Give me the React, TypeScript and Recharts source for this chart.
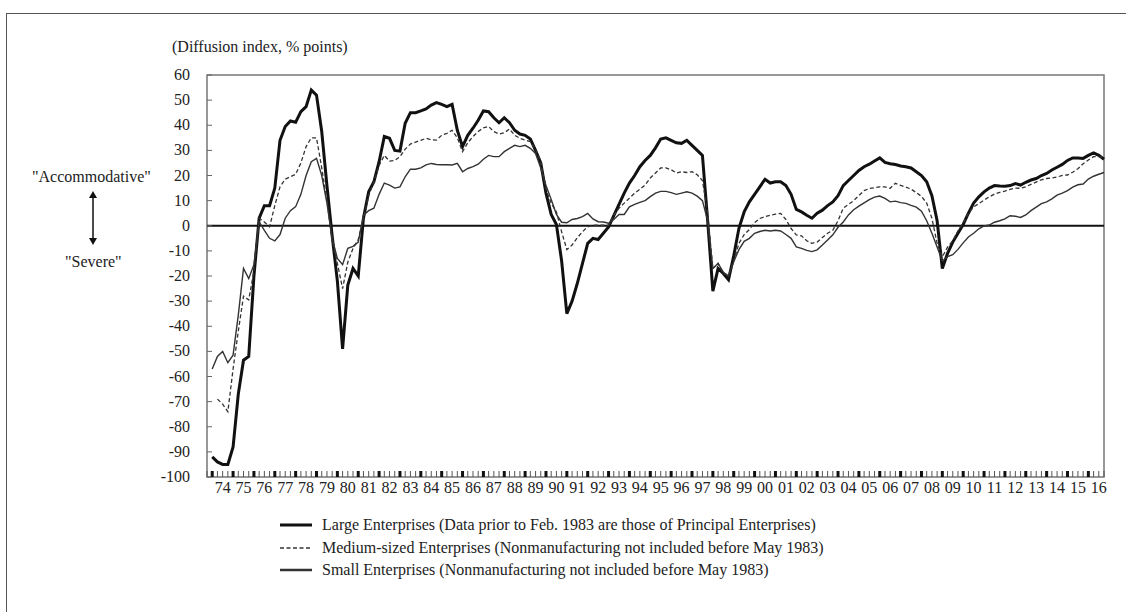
import { LineChart, Line, XAxis, YAxis, ReferenceLine, ReferenceArea } from "recharts";

// quarterly DI, 1974 Q1 .. 2016 Q4
const yearLabels = [
  "74", "75", "76", "77", "78", "79", "80", "81", "82", "83", "84", "85", "86", "87", "88", "89",
  "90", "91", "92", "93", "94", "95", "96", "97", "98", "99", "00", "01", "02", "03", "04", "05",
  "06", "07", "08", "09", "10", "11", "12", "13", "14", "15", "16",
];

const large = [
  -92, -94, -95, -95, -88, -67, -53.5, -52, -20, 3, 8, 8, 15, 34, 39.5, 41.7, 41.2, 45.4, 47.4, 54,
  52, 37.5, 16, -4, -22, -49, -23.6, -17, -20, 3, 13.5, 17.5, 25.5, 35.5, 34.8, 30, 29.7, 40.8, 45, 45,
  45.7, 46.5, 48, 49, 48.3, 47.4, 48.3, 38, 31.5, 36, 38.8, 42, 45.7, 45.4, 43, 41, 43, 41, 38, 36.5,
  36, 34.5, 30, 25, 13, 4.5, 0.5, -14, -35, -30, -23, -15, -7, -5, -5.5, -3, -0.5, 4, 8.5, 13,
  17, 20, 23.5, 26, 28, 31, 34.5, 35, 34, 33, 32.8, 34, 32, 30, 28, 2, -26, -17, -19, -21.5,
  -12, -1, 5.5, 9.5, 12.5, 15.5, 18.5, 17, 17.5, 17.5, 16, 12.5, 6.5, 5.5, 4.2, 3, 5, 6.2, 8, 9.5,
  12, 16, 18, 20, 22, 23.5, 24.5, 25.8, 27, 25.2, 24.7, 24.4, 23.8, 23.5, 23, 21.5, 20, 17.5, 12, 2,
  -17, -11, -6.5, -3, 0.5, 5, 9, 11.5, 13.5, 15, 16, 15.8, 15.7, 16, 16.8, 16.2, 17.3, 18.2, 18.8, 20,
  20.8, 22.2, 23.3, 24.4, 26, 27, 27, 26.8, 28, 29, 28, 26.5,
];

const medium = [
  null, -69, -71, -74, -57, -42, -28, -29.5, -18, 3, 1.5, -0.4, 8, 15.5, 18.5, 19.5, 20.5, 25, 31.5, 35,
  35, 23, 10, -6, -15, -25, -14.5, -9, -5.5, 3, 12, 17.5, 24, 28, 25.7, 26, 27.5, 30.5, 32.5, 33.3,
  34, 34.8, 34.2, 34.1, 36, 36.8, 38, 35, 29.5, 33, 35.5, 37.5, 39, 39.5, 37.5, 36.5, 37, 38.5, 36, 34.8,
  34.1, 33.5, 30.5, 25.5, 14.5, 9, 5.5, -2.4, -9.5, -7.7, -4.8, -2.4, -0.4, 0.2, 0.2, 0.2, 0.2, 4.2, 7, 9,
  11, 13, 14.5, 16.2, 19, 21, 23, 23, 22.3, 21, 21.5, 21.2, 21.5, 20.3, 18, 5, -17, -15, -19, -19.7,
  -14, -7, -3.5, -1.5, 1.2, 2.9, 3.6, 4.2, 4.6, 4.9, 2.5, -1.1, -3.6, -4, -6, -7, -6.5, -4.7, -3, -1.8,
  2, 7, 8.5, 10, 12, 14, 14.8, 15.1, 15.5, 15.5, 14.9, 16.9, 16.1, 15.4, 14.6, 13.2, 11.7, 9, 3, -7,
  -12.4, -8.5, -6, -2, 1, 5, 7.5, 8.8, 10.2, 11.5, 12.6, 13.3, 13.8, 14.5, 15, 14.9, 15.5, 16.5, 17.4, 18.3,
  18.8, 19, 19.4, 20, 20.2, 21.3, 22.7, 24.7, 26.2, 27.5, 27.5, 27.1,
];

const small = [
  -57, -52, -50, -54.5, -51.5, -35.6, -17, -21, -15.5, 1.6, -1.8, -5, -6, -3.5, 3, 6, 7.6, 12.5, 20, 25.5,
  26.8, 20, 9, -5, -13, -15.5, -9, -8.2, -6.5, 4.2, 6, 7, 12.5, 17, 16.2, 15, 15.5, 19.5, 22.5, 22.5,
  23, 24.2, 24.8, 24.4, 24.3, 24.3, 24.2, 24.8, 21.5, 22.8, 23.5, 24.5, 26.5, 28, 27.5, 27.5, 29.5, 30.8, 32, 31.5,
  32, 30.8, 28.8, 23, 16, 10.5, 4.5, 1.4, 1.2, 2.5, 2.9, 3.6, 4.9, 2.7, 1.6, 1.5, 1, 2.5, 4.5, 4.5,
  7.5, 8.5, 9.3, 10, 11.6, 13, 13.7, 13.7, 13.2, 12.5, 13, 13.5, 13, 11.8, 10, 2, -17, -15, -18.5, -20,
  -14.3, -9.5, -6.2, -5, -3, -2.3, -1.8, -2.1, -1.8, -2.1, -3.5, -5, -8.4, -9, -9.8, -10.3, -9.6, -7.7, -5.7, -3.6,
  -0.6, 1.5, 4.3, 6.4, 7.8, 9.1, 10.4, 11.4, 11.8, 10.9, 9.5, 9.8, 9.2, 8.9, 8.1, 7.4, 5.8, 2, -3, -8.5,
  -14, -12.3, -11.5, -9.4, -6.8, -4.5, -3, -1.2, -0.1, 0.3, 1.4, 2, 2.7, 4, 3.8, 3.3, 4.3, 6, 7.4, 8.8,
  9.5, 10.7, 12.2, 13, 14, 15.4, 16.3, 16.6, 18.6, 19.7, 20.5, 21.2,
];

const yTicks = [-100, -90, -80, -70, -60, -50, -40, -30, -20, -10, 0, 10, 20, 30, 40, 50, 60];

const series = [
  { key: "large", name: "Large Enterprises (Data prior to Feb. 1983 are those of Principal Enterprises)", stroke: "#111", width: 3, legendWidth: 3, dash: undefined },
  { key: "medium", name: "Medium-sized Enterprises (Nonmanufacturing not included before May 1983)", stroke: "#333", width: 1.3, legendWidth: 1.3, dash: "4 2.5" },
  { key: "small", name: "Small Enterprises (Nonmanufacturing not included before May 1983)", stroke: "#333", width: 1.4, legendWidth: 2.5, dash: undefined },
];

// position 0 is one quarter before 1974 Q1
const data = large.map((v, i) => ({ q: i + 1, large: v, medium: medium[i], small: small[i] }));
const quarterTicks = Array.from({ length: yearLabels.length * 4 + 1 }, (_, i) => i);

const SERIF = '"Liberation Serif", "Times New Roman", serif';

const QuarterTick = ({ x, y, payload }: any) => {
  const k = payload.value;
  const yearStart = k % 4 === 1;
  const label = k % 4 === 3 ? yearLabels[(k - 3) / 4] : null;
  return (
    <g>
      <rect x={yearStart ? x - 1.5 : x - 0.5} y={y - 6} width={yearStart ? 3 : 1} height={6} fill={yearStart ? "#111" : "#555"} />
      {label && (
        <text x={x} y={y + 16} textAnchor="middle" fontSize={16} fontFamily={SERIF} fill="#222">
          {label}
        </text>
      )}
    </g>
  );
};

const ValueTick = ({ x, y, payload }: any) => (
  <g>
    <line x1={x + 17} x2={x + 22} y1={y} y2={y} stroke="#666" strokeWidth={1} />
    <text x={x} y={y + 5} textAnchor="end" fontSize={16} fontFamily={SERIF} fill="#222">
      {payload.value}
    </text>
  </g>
);

export default function App() {
  return (
    <div style={{ position: "fixed", left: 0, top: 0, width: 1126, height: 612, background: "#fff", overflow: "hidden", fontFamily: SERIF }}>
      <div style={{ position: "absolute", left: 6, top: 13, width: 1200, height: 700, borderLeft: "1.5px solid #555", borderTop: "1.5px solid #555" }} />
      <div style={{ position: "absolute", left: 172, top: 38, fontSize: 16, lineHeight: "18px", color: "#222" }}>
        (Diffusion index, % points)
      </div>
      <div style={{ position: "absolute", left: 32, top: 168, fontSize: 16, lineHeight: "18px", color: "#222" }}>
        "Accommodative"
      </div>
      <div style={{ position: "absolute", left: 65, top: 253, fontSize: 16, lineHeight: "18px", color: "#222" }}>
        "Severe"
      </div>
      <svg style={{ position: "absolute", left: 86, top: 190 }} width={14} height={56}>
        <line x1={7} x2={7} y1={6} y2={50} stroke="#111" strokeWidth={1.5} />
        <path d="M7 1 L3 8 L11 8 Z" fill="#111" />
        <path d="M7 55 L3 48 L11 48 Z" fill="#111" />
      </svg>
      <div style={{ position: "absolute", left: 280, top: 514, fontSize: 16, color: "#222" }}>
        {series.map((s) => (
          <div key={s.key} style={{ display: "flex", alignItems: "center", height: 22.5 }}>
            <svg width={42} height={10}>
              <line x1={0} x2={32} y1={5} y2={5} stroke={s.stroke} strokeWidth={s.legendWidth} strokeDasharray={s.dash} />
            </svg>
            <span>{s.name}</span>
          </div>
        ))}
      </div>
      <LineChart width={1126} height={612} data={data} margin={{ top: 75, right: 22, bottom: 105, left: 147 }} style={{ position: "absolute", left: 0, top: 0 }}>
        <XAxis
          dataKey="q"
          type="number"
          domain={[0, quarterTicks.length - 1]}
          ticks={quarterTicks}
          interval={0}
          tick={<QuarterTick />}
          tickLine={false}
          tickSize={0}
          tickMargin={0}
          axisLine={false}
          height={30}
        />
        <YAxis
          domain={[-100, 60]}
          ticks={yTicks}
          interval={0}
          tick={<ValueTick />}
          tickLine={false}
          tickSize={0}
          tickMargin={17}
          axisLine={false}
          width={60}
        />
        <ReferenceArea x1={0} x2={quarterTicks.length - 1} y1={-100} y2={60} fill="none" stroke="#777" strokeWidth={1.5} />
        <ReferenceLine y={0} stroke="#111" strokeWidth={2} />
        {series.map((s) => (
          <Line
            key={s.key}
            type="linear"
            dataKey={s.key}
            name={s.name}
            stroke={s.stroke}
            strokeWidth={s.width}
            strokeDasharray={s.dash}
            dot={false}
            isAnimationActive={false}
          />
        ))}
      </LineChart>
    </div>
  );
}
